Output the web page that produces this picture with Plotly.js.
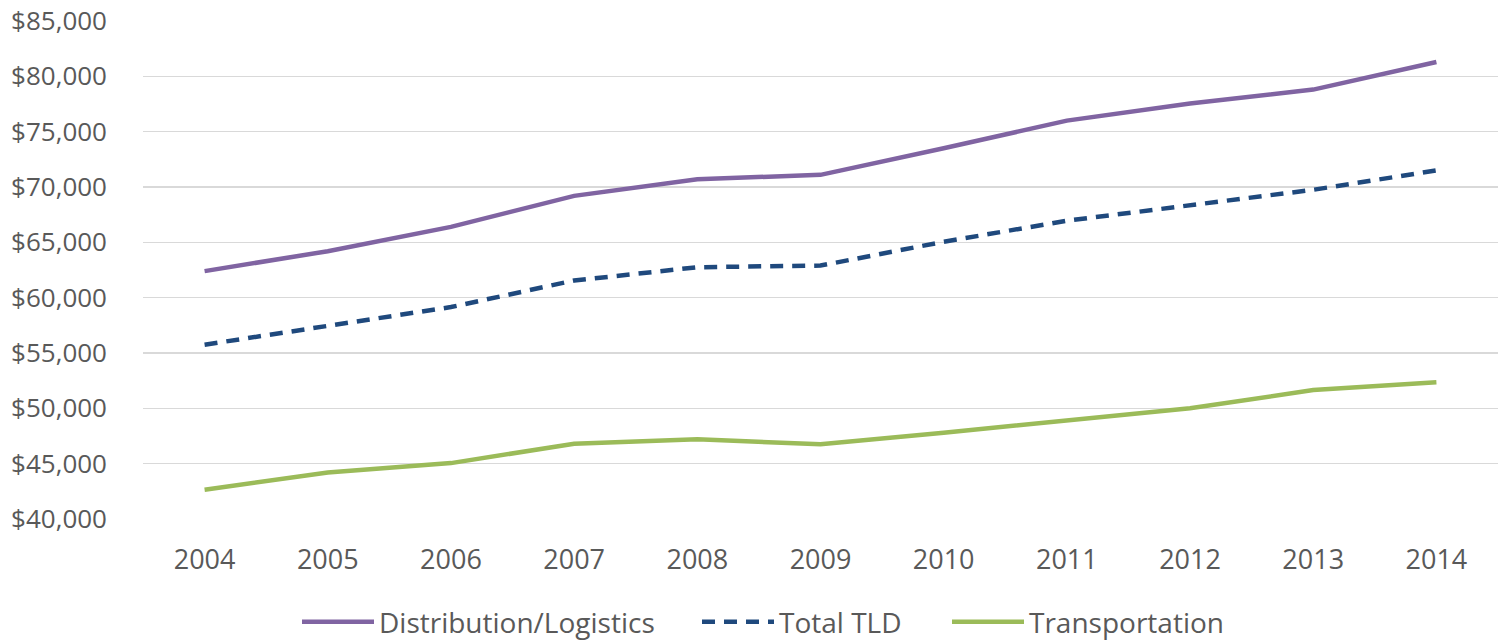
<!DOCTYPE html>
<html>
<head>
<meta charset="utf-8">
<script src="https://cdn.plot.ly/plotly-3.0.1.min.js"></script>
<style>
  html, body { margin: 0; padding: 0; background: #ffffff; }
  #chart { width: 1499px; height: 640px; }
</style>
</head>
<body>
<div id="chart"></div>
<script>
const years = ["2004","2005","2006","2007","2008","2009","2010","2011","2012","2013","2014"];
const distributionLogistics = [62400, 64200, 66400, 69200, 70700, 71100, 73500, 76000, 77550, 78800, 81300];
const totalTLD = [55750, 57400, 59150, 61550, 62750, 62900, 65050, 66950, 68350, 69750, 71500];
const transportation = [42650, 44200, 45050, 46800, 47200, 46750, 47800, 48850, 50000, 51650, 52350];
const yTicks = [40000, 45000, 50000, 55000, 60000, 65000, 70000, 75000, 80000, 85000];
const yTickText = ["$40,000","$45,000","$50,000","$55,000","$60,000","$65,000","$70,000","$75,000","$80,000","$85,000"];

const textColor = "#595959";
const fontFamily = "'Open Sans', 'Liberation Sans', sans-serif";

const traces = [
  { x: years, y: distributionLogistics, name: "Distribution/Logistics", type: "scatter", mode: "lines",
    line: { color: "#8064A2", width: 4.5 }, legend: "legend" },
  { x: years, y: totalTLD, name: "Total TLD", type: "scatter", mode: "lines",
    line: { color: "#1F497D", width: 4.5, dash: "13px,9px" }, legend: "legend2" },
  { x: years, y: transportation, name: "Transportation", type: "scatter", mode: "lines",
    line: { color: "#9BBB59", width: 4.5 }, legend: "legend3" }
];

function legendAt(xPx) {
  return { orientation: "h", xref: "container", yref: "container", x: xPx / 1499, xanchor: "left",
    y: 1 - 622 / 640, yanchor: "middle", bgcolor: "rgba(0,0,0,0)",
    font: { size: 28, color: textColor, family: fontFamily }, itemwidth: 72 };
}

const layout = {
  width: 1499, height: 640,
  margin: { l: 143, r: 1, t: 21, b: 121 },
  paper_bgcolor: "#ffffff", plot_bgcolor: "#ffffff",
  font: { family: fontFamily, color: textColor, size: 26 },
  showlegend: true,
  legend: legendAt(297),
  legend2: legendAt(697),
  legend3: legendAt(947),
  xaxis: { type: "category", range: [-0.5, 10.5], showgrid: false, zeroline: false, showline: false,
    ticks: "", tickfont: { size: 27, color: textColor }, ticklabelstandoff: 22, fixedrange: true },
  yaxis: { range: [40000, 85000], tickvals: yTicks, ticktext: yTickText, showgrid: true,
    gridcolor: "#D9D9D9", gridwidth: 1.5, zeroline: false, showline: false, ticks: "",
    tickfont: { size: 26, color: textColor }, ticklabelstandoff: 35, fixedrange: true }
};

Plotly.newPlot("chart", traces, layout, { displayModeBar: false, staticPlot: true });
</script>
</body>
</html>
